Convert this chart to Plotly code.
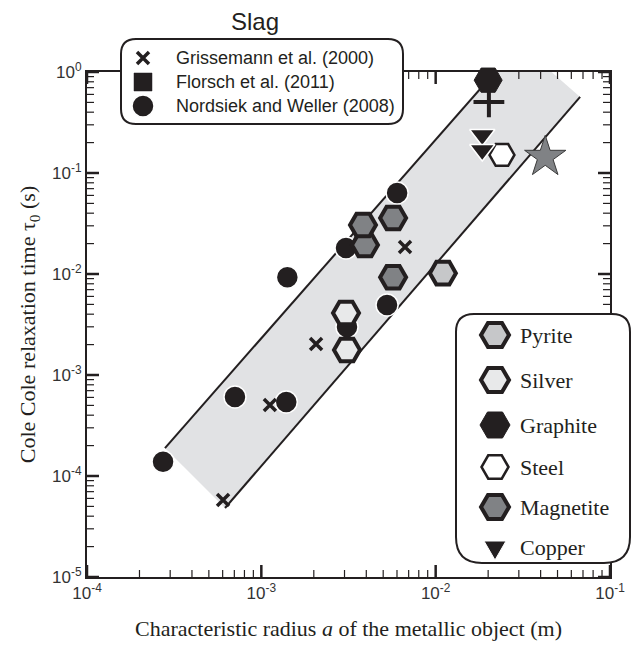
import math
import plotly.graph_objects as go

W, H = 632, 646

# ---------------- data ----------------
# Nordsiek and Weller (2008) - black circles
nord_a = [2.73e-4, 7.06e-4, 1.39e-3, 1.41e-3, 3.06e-3, 3.10e-3, 5.26e-3, 6.01e-3]
nord_tau = [1.38e-4, 6.05e-4, 5.4e-4, 9.3e-3, 1.81e-2, 2.99e-3, 4.93e-3, 6.34e-2]
# Grissemann et al. (2000) - crosses
gris_a = [6.03e-4, 1.12e-3, 2.06e-3, 6.67e-3]
gris_tau = [5.78e-5, 5.05e-4, 2.03e-3, 1.85e-2]
# plus marker
plus_a = [2.02e-2]
plus_tau = [0.505]
# laboratory materials
pyrite_a = [1.10e-2]
pyrite_tau = [1.02e-2]
silver_a = [3.06e-3, 3.10e-3]
silver_tau = [4.11e-3, 1.77e-3]
magnetite_a = [3.93e-3, 3.83e-3, 5.70e-3, 5.70e-3]
magnetite_tau = [1.94e-2, 3.06e-2, 3.58e-2, 9.3e-3]
graphite_a = [2.0e-2]
graphite_tau = [0.83]
steel_a = [2.40e-2]
steel_tau = [0.151]
copper_a = [1.85e-2, 1.85e-2]
copper_tau = [0.238, 0.169]
star_a = [4.25e-2]
star_tau = [0.144]

# grey band (vertices) and its two bounding lines
band_a = [2.80e-4, 6.19e-4, 6.74e-2, 3.03e-2]
band_tau = [1.89e-4, 4.82e-5, 0.566, 1.89]
upper_a = [2.80e-4, 2.19e-2]
upper_tau = [1.89e-4, 1.0]
lower_a = [6.19e-4, 6.74e-2]
lower_tau = [4.82e-5, 0.566]

# ticks
x_tickvals = [1e-4, 1e-3, 1e-2, 1e-1]
x_ticktext = ["10<sup>-4</sup>", "10<sup>-3</sup>", "10<sup>-2</sup>", "10<sup>-1</sup>"]
y_tickvals = [1e-5, 1e-4, 1e-3, 1e-2, 1e-1, 1e0]
y_ticktext = ["10<sup>-5</sup>", "10<sup>-4</sup>", "10<sup>-3</sup>", "10<sup>-2</sup>",
              "10<sup>-1</sup>", "10<sup>0</sup>"]
x_minor = [m * 10.0 ** e for e in range(-4, -1) for m in range(2, 10)]
y_minor = [m * 10.0 ** e for e in range(-5, 0) for m in range(2, 10)]

top_legend_labels = ["Grissemann et al. (2000)", "Florsch et al. (2011)", "Nordsiek and Weller (2008)"]
right_legend_labels = ["Pyrite", "Silver", "Graphite", "Steel", "Magnetite", "Copper"]

# ---------------- styles ----------------
INK = "#231f20"
PYRITE, SILVER, MAGNETITE = "#c6c7c9", "#e8e9ea", "#808285"
circle_m = dict(symbol="circle", size=22, color=INK, line=dict(color="white", width=1.5))
cross_m = dict(symbol="x-thin", size=12, color=INK, line=dict(color=INK, width=3.5))
plus_m = dict(symbol="cross-thin", size=22, color=INK, line=dict(color=INK, width=4))
pyrite_m = dict(symbol="hexagon2", size=26, color=PYRITE, line=dict(color=INK, width=4))
silver_m = dict(symbol="hexagon2", size=26, color=SILVER, line=dict(color=INK, width=4))
graphite_m = dict(symbol="hexagon2", size=28, color=INK, line=dict(color=INK, width=1))
steel_m = dict(symbol="hexagon2", size=25, color="white", line=dict(color=INK, width=2.5))
magnetite_m = dict(symbol="hexagon2", size=26, color=MAGNETITE, line=dict(color=INK, width=4))
copper_m = dict(symbol="triangle-down", size=22, color=INK, line=dict(color="white", width=1.5))
star_m = dict(symbol="star", size=31, color=MAGNETITE, line=dict(color="#3a3a3a", width=1))

# ---------------- plot-area geometry (pixels, margin = 0) ----------------
PL, PR, PT, PB = 87, 610, 72, 577
X_DEC = (PR - PL) / 3.0   # pixels per decade along x
Y_DEC = (PB - PT) / 5.0   # pixels per decade along y

fig = go.Figure()

fig.add_trace(go.Scatter(x=band_a, y=band_tau, mode="lines", fill="toself",
                         fillcolor="#e1e2e4", line=dict(width=0), showlegend=False,
                         hoverinfo="skip"))
fig.add_trace(go.Scatter(x=upper_a, y=upper_tau, mode="lines", line=dict(color=INK, width=2),
                         showlegend=False, hoverinfo="skip"))
fig.add_trace(go.Scatter(x=lower_a, y=lower_tau, mode="lines", line=dict(color=INK, width=2),
                         showlegend=False, hoverinfo="skip"))

# inside tick marks on all four sides, drawn on the log scales
def tick_trace(xv, yv, ln, wd):
    tx, ty = [], []
    dy = 10 ** (ln / Y_DEC)
    dx = 10 ** (ln / X_DEC)
    for v in xv:
        tx += [v, v, None, v, v, None]
        ty += [1e-5, 1e-5 * dy, None, 1.0, 1.0 / dy, None]
    for v in yv:
        tx += [1e-4, 1e-4 * dx, None, 0.1, 0.1 / dx, None]
        ty += [v, v, None, v, v, None]
    fig.add_trace(go.Scatter(x=tx, y=ty, mode="lines", line=dict(color=INK, width=wd),
                             showlegend=False, hoverinfo="skip", connectgaps=False))

tick_trace(x_minor, y_minor, 7, 1.2)
tick_trace(x_tickvals, y_tickvals, 12, 2.5)

def pts(x, y, m, name):
    fig.add_trace(go.Scatter(x=x, y=y, mode="markers", marker=m, name=name,
                             cliponaxis=False, showlegend=False, hoverinfo="x+y"))

pts(nord_a, nord_tau, circle_m, "Nordsiek and Weller (2008)")
pts(gris_a, gris_tau, cross_m, "Grissemann et al. (2000)")
pts(plus_a, plus_tau, plus_m, "+")
pts(pyrite_a, pyrite_tau, pyrite_m, "Pyrite")
pts(silver_a, silver_tau, silver_m, "Silver")
pts(magnetite_a, magnetite_tau, magnetite_m, "Magnetite")
pts(graphite_a, graphite_tau, graphite_m, "Graphite")
pts(steel_a, steel_tau, steel_m, "Steel")
pts(copper_a, copper_tau, copper_m, "Copper")
pts(star_a, star_tau, star_m, "Star")

def px(x):
    return x / W

def py(y):
    return 1 - y / H

# ---------------- hand-drawn legends ----------------
def rrect(x0, y0, x1, y1, rt, rb):
    P = lambda x, y: f"{px(x):.5f},{py(y):.5f}"
    return (f"M {P(x0+rt, y0)} L {P(x1-rt, y0)} Q {P(x1, y0)} {P(x1, y0+rt)} "
            f"L {P(x1, y1-rb)} Q {P(x1, y1)} {P(x1-rb, y1)} L {P(x0+rb, y1)} "
            f"Q {P(x0, y1)} {P(x0, y1-rb)} L {P(x0, y0+rt)} Q {P(x0, y0)} {P(x0+rt, y0)} Z")

def sym(cx, cy, path, fill, lc, lw):
    return dict(type="path", xref="paper", yref="paper", xsizemode="pixel", ysizemode="pixel",
                xanchor=px(cx), yanchor=py(cy), path=path, fillcolor=fill,
                line=dict(color=lc, width=lw), layer="above")

def circ(cx, cy, r, fill, lc, lw):
    return dict(type="circle", xref="paper", yref="paper", xsizemode="pixel", ysizemode="pixel",
                xanchor=px(cx), yanchor=py(cy), x0=-r, x1=r, y0=-r, y1=r, fillcolor=fill,
                line=dict(color=lc, width=lw), layer="above")

def hexpath(r):
    pts_ = [(r * math.cos(math.radians(a)), r * math.sin(math.radians(a))) for a in range(0, 360, 60)]
    return "M " + " L ".join(f"{x:.2f},{y:.2f}" for x, y in pts_) + " Z"

shapes = [
    dict(type="path", xref="paper", yref="paper", layer="above",
         path=rrect(121, 39, 403, 124, 15, 15), fillcolor="white", line=dict(color=INK, width=2)),
    dict(type="path", xref="paper", yref="paper", layer="above",
         path=rrect(456, 314, 630, 563, 18, 26), fillcolor="white", line=dict(color=INK, width=2)),
]

top_rows = [58, 82, 106]
right_rows = [335, 380, 425, 467, 507, 547]
TX, RX = 143, 495

shapes += [
    sym(TX, top_rows[0], "M -6,-6 L 6,6 M -6,6 L 6,-6", "rgba(0,0,0,0)", INK, 3.5),
    sym(TX, top_rows[1], "M -9,-9 L 9,-9 L 9,9 L -9,9 Z", INK, INK, 0.5),
    circ(TX, top_rows[2], 11, INK, "white", 1.5),
    sym(RX, right_rows[0], hexpath(14), PYRITE, INK, 4),
    sym(RX, right_rows[1], hexpath(14), SILVER, INK, 4),
    sym(RX, right_rows[2], hexpath(15), INK, INK, 1),
    sym(RX, right_rows[3], hexpath(13.5), "white", INK, 2.5),
    sym(RX, right_rows[4], hexpath(14), MAGNETITE, INK, 4),
    sym(RX, right_rows[5], "M -11,6 L 11,6 L 0,-13 Z", INK, "white", 1),
]

annotations = []
for yy, lab in zip(top_rows, top_legend_labels):
    annotations.append(dict(x=px(174), y=py(yy), xref="paper", yref="paper", text=lab,
                            showarrow=False, xanchor="left", yanchor="middle",
                            font=dict(family="Liberation Sans, Arial", size=18, color=INK)))
for yy, lab in zip(right_rows, right_legend_labels):
    annotations.append(dict(x=px(518), y=py(yy), xref="paper", yref="paper", text=lab,
                            showarrow=False, xanchor="left", yanchor="middle",
                            font=dict(family="Liberation Serif, Times New Roman", size=22, color=INK)))
annotations.append(dict(x=px(255), y=py(22), xref="paper", yref="paper", text="Slag",
                        showarrow=False, xanchor="center", yanchor="middle",
                        font=dict(family="Liberation Sans, Arial", size=24, color=INK)))

# ---------------- axes ----------------
axis_common = dict(
    type="log", showline=True, linecolor=INK, linewidth=2, mirror=True,
    ticks="", showgrid=False, zeroline=False, tickmode="array", automargin=False,
    tickfont=dict(family="Liberation Sans, Arial", size=17, color="#333333"),
)

fig.update_layout(
    width=W, height=H, template="none",
    margin=dict(l=0, r=0, t=0, b=0),
    paper_bgcolor="white", plot_bgcolor="white",
    showlegend=False,
    xaxis=dict(axis_common, domain=[PL / W, PR / W], range=[-4, -1], anchor="y",
               tickvals=x_tickvals, ticktext=x_ticktext,
               title=dict(text="Characteristic radius <i>a</i> of the metallic object (m)",
                          font=dict(family="Liberation Serif, Times New Roman", size=22, color=INK),
                          standoff=18)),
    yaxis=dict(axis_common, domain=[(H - PB) / H, (H - PT) / H], range=[-5, 0], anchor="x",
               tickvals=y_tickvals, ticktext=y_ticktext,
               title=dict(text="Cole Cole relaxation time τ<sub>0</sub> (s)",
                          font=dict(family="Liberation Serif, Times New Roman", size=22, color=INK),
                          standoff=10)),
    shapes=shapes,
    annotations=annotations,
)

fig.write_html("out.html")
